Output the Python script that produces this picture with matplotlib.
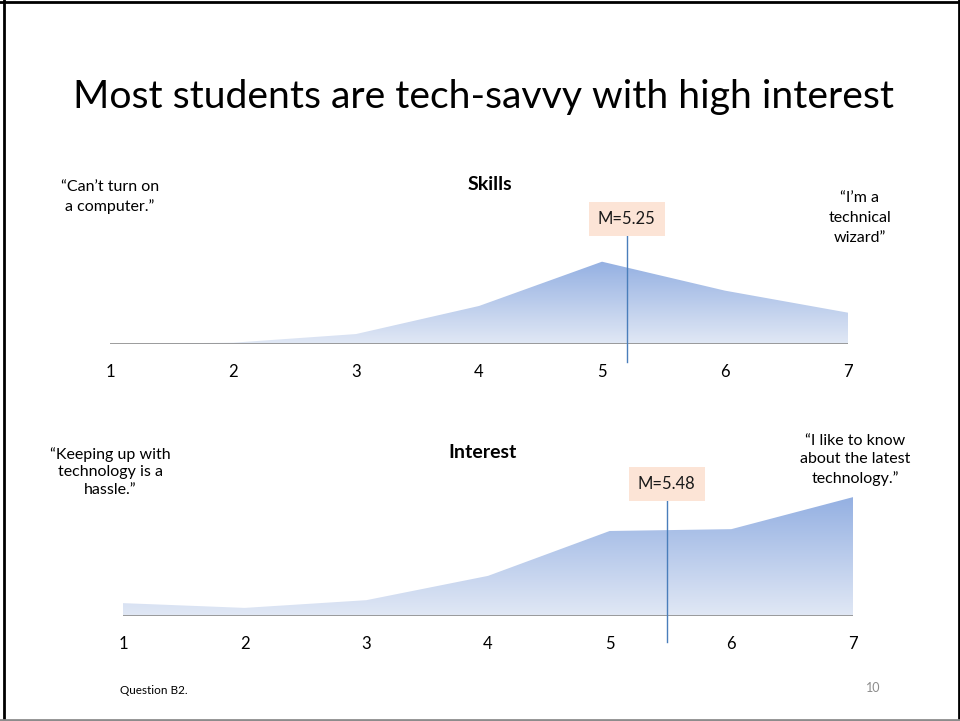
import matplotlib
matplotlib.use("Agg")
import matplotlib.pyplot as plt
import numpy as np
from matplotlib.colors import LinearSegmentedColormap
from matplotlib.lines import Line2D

plt.rcParams['font.family'] = ['Lato', 'DejaVu Sans']

# ---- data ----
scale_points = [1, 2, 3, 4, 5, 6, 7]
skills_pct = [0.0, 0.6, 4.6, 17.6, 38.1, 24.7, 14.5]
interest_pct = [3.5, 2.2, 4.3, 10.9, 23.1, 23.6, 32.3]
skills_mean = 5.25
interest_mean = 5.48
skills_label = "M=5.25"
interest_label = "M=5.48"
title = "Most students are tech-savvy with high interest"
skills_title = "Skills"
interest_title = "Interest"
skills_left = "\u201cCan\u2019t turn on\na computer.\u201d"
skills_right = "\u201cI\u2019m a\ntechnical\nwizard\u201d"
interest_left = "\u201cKeeping up with\ntechnology is a\nhassle.\u201d"
interest_right = "\u201cI like to know\nabout the latest\ntechnology.\u201d"
footer = "Question B2."
page = "10"

W, H = 960, 721
fig = plt.figure(figsize=(W / 100, H / 100), dpi=100)

def px_axes(x0, x1, ytop, ybot):
    return fig.add_axes([x0 / W, 1 - ybot / H, (x1 - x0) / W, (ybot - ytop) / H])

cmap = LinearSegmentedColormap.from_list("g", ["#e1e8f5", "#94b0e2"])

def draw_panel(ax, vals, ymax, mean_line_pos, label, line_top_frac, line_bot_frac, box_frac, pad):
    ax.set_xlim(1, 7)
    ax.set_ylim(0, ymax)
    poly = ax.fill_between(scale_points, vals, 0, color="none", lw=0)
    grad = np.linspace(0, 1, 256).reshape(-1, 1)
    im = ax.imshow(grad, extent=[1, 7, 0, max(vals)], origin="lower", cmap=cmap,
                   aspect="auto", interpolation="bilinear", zorder=1)
    path = poly.get_paths()[0]
    im.set_clip_path(path, transform=ax.transData)
    ax.axhline(0, color="#8c8c8c", lw=1.2, zorder=3)
    trans = ax.get_xaxis_transform()
    ax.add_line(Line2D([mean_line_pos, mean_line_pos], [line_bot_frac, line_top_frac],
                       transform=trans, color="#4a7ebb", lw=1.0, clip_on=False, zorder=4))
    ax.text(mean_line_pos, box_frac, label, transform=trans, ha="center", va="center",
            fontsize=12, color="#1a1a1a", zorder=5,
            bbox=dict(boxstyle="square,pad=0.55", fc="#fce4d6", ec="none"))
    ax.set_xticks(scale_points)
    ax.set_xticklabels([str(s) for s in scale_points], fontsize=12)
    ax.tick_params(axis="x", length=0, pad=pad)
    ax.set_yticks([])
    for s in ax.spines.values():
        s.set_visible(False)
    ax.patch.set_alpha(0)

# Skills panel: x 110..848, baseline 344
ax1 = px_axes(110, 848, 250, 344)
draw_panel(ax1, skills_pct, 94 / 2.16, 5.2, skills_label,
           (344 - 235) / 94, -(362 - 344) / 94, (344 - 219) / 94, 14.5)

# Interest panel: x 123..853, baseline 616
ax2 = px_axes(123, 853, 480, 616)
draw_panel(ax2, interest_pct, 136 / 3.68, 5.47, interest_label,
           (616 - 500) / 136, -(642 - 616) / 136, (616 - 484) / 136, 14.5)

def ftext(x, y, s, **kw):
    fig.text(x / W, 1 - y / H, s, **kw)

ftext(483, 97, title, ha="center", va="center", fontsize=28.2, color="#000000")
ftext(490, 185, skills_title, ha="center", va="center", fontsize=14, fontweight="bold")
ftext(483, 452, interest_title, ha="center", va="center", fontsize=14, fontweight="bold")
ftext(110, 197, skills_left, ha="center", va="center", fontsize=11.5, linespacing=1.45)
ftext(860, 218, skills_right, ha="center", va="center", fontsize=11.5, linespacing=1.5)
ftext(110, 472, interest_left, ha="center", va="center", fontsize=11.5, linespacing=1.35)
ftext(855, 460, interest_right, ha="center", va="center", fontsize=11.5, linespacing=1.4)
ftext(120, 690, footer, ha="left", va="center", fontsize=8.5)
ftext(880, 688, page, ha="right", va="center", fontsize=9, color="#8c8c8c")

# slide border
fig.add_artist(Line2D([3.5 / W, 3.5 / W], [0, 1], transform=fig.transFigure, color="black", lw=2))
fig.add_artist(Line2D([0, 1], [1 - 1.5 / H, 1 - 1.5 / H], transform=fig.transFigure, color="black", lw=2))
fig.add_artist(Line2D([1 - 1.5 / W, 1 - 1.5 / W], [0, 1], transform=fig.transFigure, color="black", lw=2))
fig.add_artist(Line2D([0, 1], [1.5 / H, 1.5 / H], transform=fig.transFigure, color="#8c8c8c", lw=2))

fig.savefig("out.png", dpi=100)
